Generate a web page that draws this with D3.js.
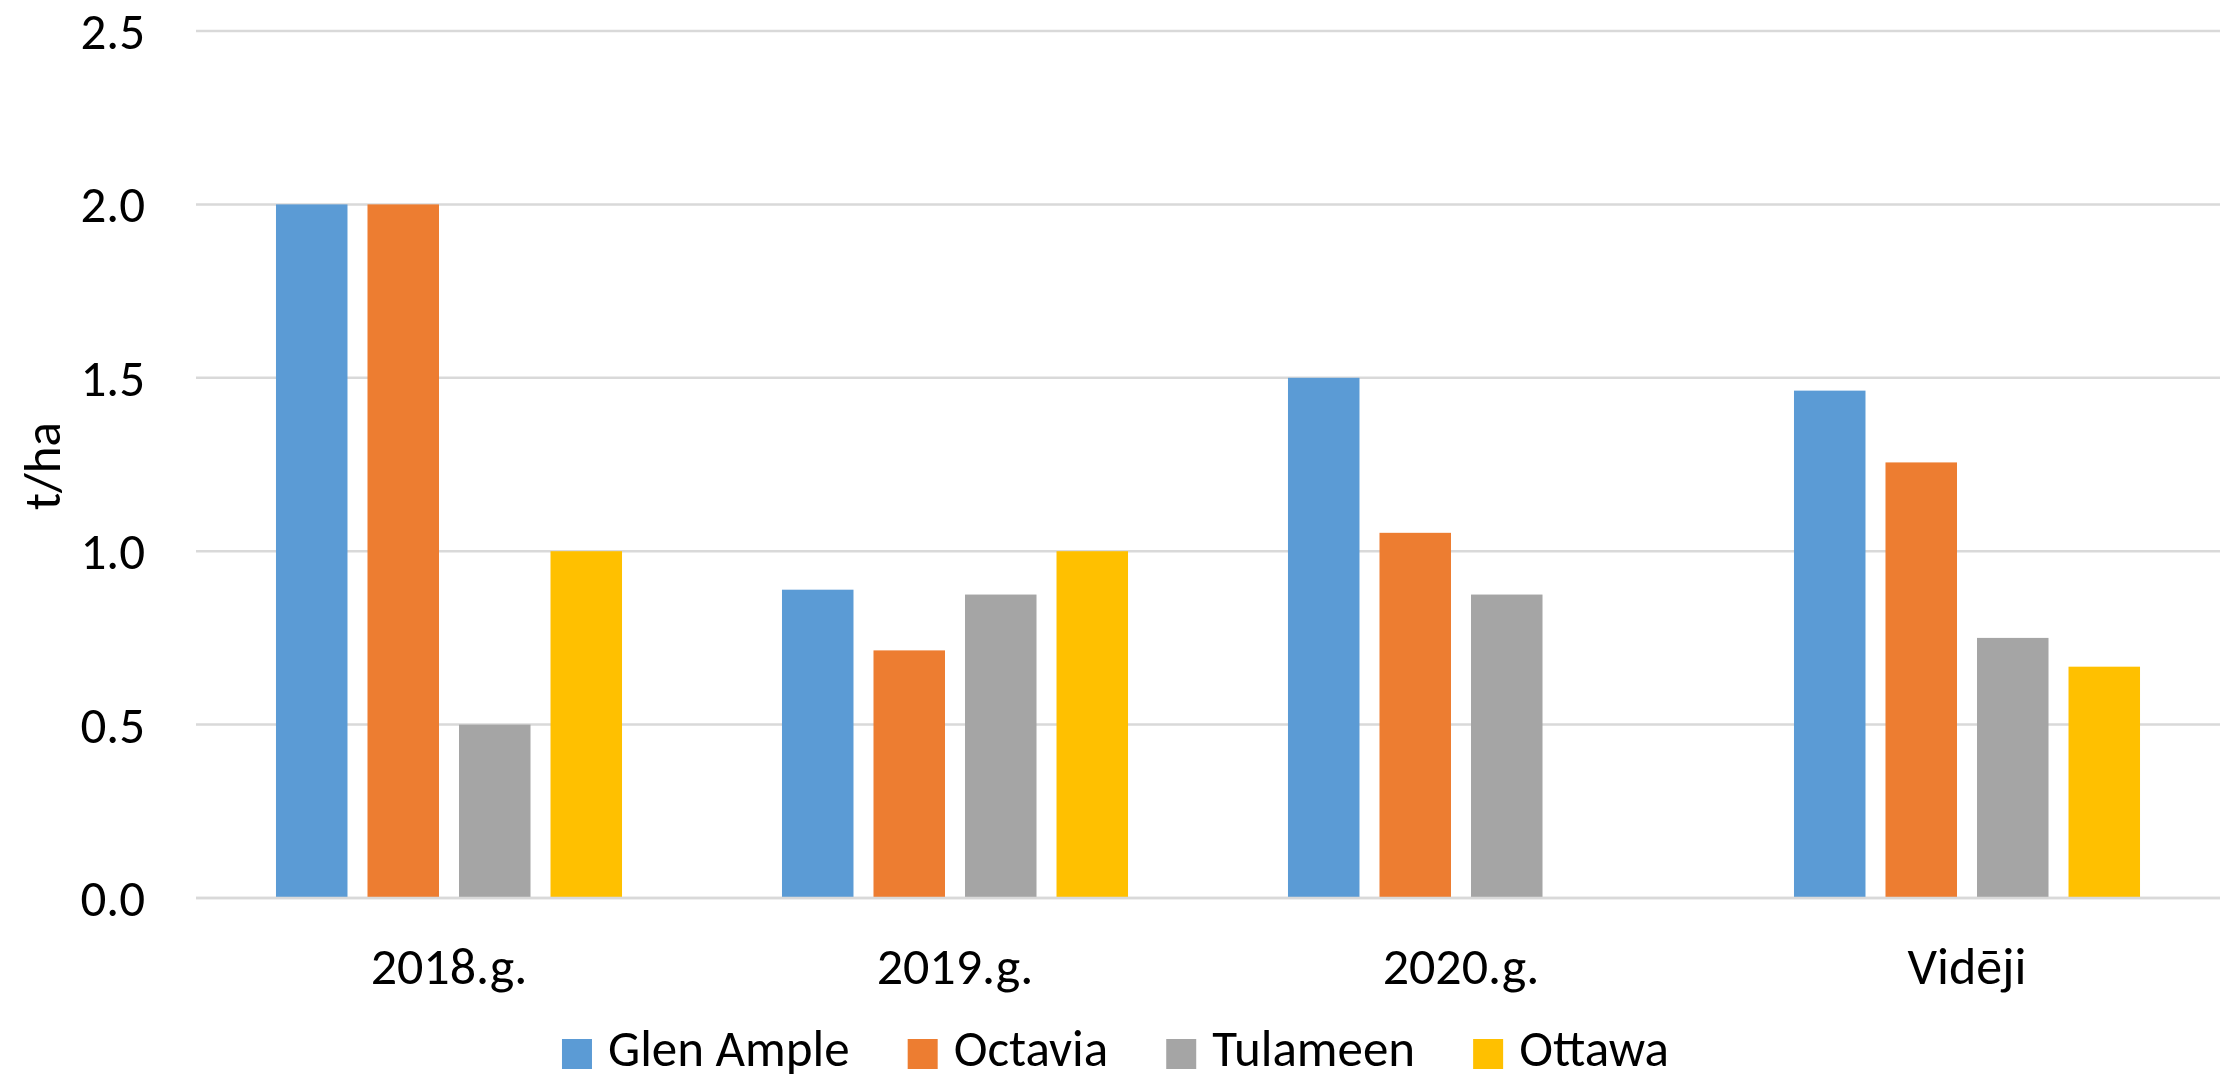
<!DOCTYPE html>
<html>
<head>
<meta charset="utf-8">
<script src="https://cdn.jsdelivr.net/npm/d3@7"></script>
<style>
  body { margin: 0; background: #fff; }
  svg { display: block; font-family: Carlito, Calibri, Lato, sans-serif; }
</style>
</head>
<body>
<svg id="chart"></svg>
<script>
// Yield per variety, t/ha
const categories = ['2018.g.', '2019.g.', '2020.g.', 'Vidēji'];
const seriesNames = ['Glen Ample', 'Octavia', 'Tulameen', 'Ottawa'];
const glenAmple = [2.0, 0.889, 1.5, 1.463];
const octavia = [2.0, 0.714, 1.053, 1.256];
const tulameen = [0.5, 0.875, 0.875, 0.75];
const ottawa = [1.0, 1.0, 0, 0.667];
const yTicks = [0, 0.5, 1.0, 1.5, 2.0, 2.5];

const seriesValues = [glenAmple, octavia, tulameen, ottawa];

const width = 2231;
const height = 1080;
const margin = { top: 31, right: 11, bottom: 182, left: 196 };

const color = d3.scaleOrdinal()
    .domain(seriesNames)
    .range(['#5b9bd5', '#ed7d31', '#a5a5a5', '#ffc000']);

const svg = d3.select('#chart')
    .attr('width', width)
    .attr('height', height);

const x0 = d3.scaleBand()
    .domain(categories)
    .range([margin.left, width - margin.right])
    .padding(0);

const x1 = d3.scaleBand()
    .domain(seriesNames)
    .range([0, x0.bandwidth()])
    .paddingInner(0.2186)
    .paddingOuter(0.874);

const y = d3.scaleLinear()
    .domain([0, 2.5])
    .range([height - margin.bottom, margin.top]);

// gridlines
svg.append('g')
    .selectAll('line')
    .data(yTicks)
    .enter()
    .append('line')
    .attr('x1', margin.left)
    .attr('x2', width - margin.right)
    .attr('y1', d => y(d))
    .attr('y2', d => y(d))
    .attr('stroke', '#d9d9d9')
    .attr('stroke-width', 2.5);

// y tick labels
svg.append('g')
    .selectAll('text')
    .data(yTicks)
    .enter()
    .append('text')
    .attr('x', 145)
    .attr('y', d => y(d) + 18)
    .attr('text-anchor', 'end')
    .style('font-size', '51px')
    .style('fill', '#000')
    .text(d => d3.format('.1f')(d));

// bars
const groups = svg.append('g')
    .selectAll('g')
    .data(categories)
    .enter()
    .append('g')
    .attr('transform', d => `translate(${x0(d)},0)`);

groups.selectAll('rect')
    .data((d, ci) => seriesNames.map((s, si) => ({ series: s, value: seriesValues[si][ci] })))
    .enter()
    .append('rect')
    .attr('x', d => x1(d.series))
    .attr('width', x1.bandwidth())
    .attr('y', d => y(d.value))
    .attr('height', d => y(0) - y(d.value))
    .attr('fill', d => color(d.series));

// baseline over bars
svg.append('line')
    .attr('x1', margin.left)
    .attr('x2', width - margin.right)
    .attr('y1', y(0))
    .attr('y2', y(0))
    .attr('stroke', '#d9d9d9')
    .attr('stroke-width', 2.5);

// x category labels
svg.append('g')
    .selectAll('text')
    .data(categories)
    .enter()
    .append('text')
    .attr('x', d => x0(d) + x0.bandwidth() / 2)
    .attr('y', 984)
    .attr('text-anchor', 'middle')
    .style('font-size', '52px')
    .style('fill', '#000')
    .text(d => d);

// y axis title
svg.append('text')
    .attr('transform', 'translate(60,466) rotate(-90)')
    .attr('text-anchor', 'middle')
    .style('font-size', '51px')
    .style('fill', '#000')
    .text('t/ha');

// legend, centred on the chart
const legend = svg.append('g');
const items = legend.selectAll('g')
    .data(seriesNames)
    .enter()
    .append('g');

items.append('rect')
    .attr('width', 30)
    .attr('height', 30)
    .attr('y', 1039)
    .attr('fill', d => color(d));

items.append('text')
    .attr('x', 46)
    .attr('y', 1066)
    .style('font-size', '51px')
    .style('fill', '#000')
    .text(d => d);

let offset = 0;
const positions = [];
items.each(function () {
    const w = 46 + d3.select(this).select('text').node().getComputedTextLength();
    positions.push(offset);
    offset += w + 58;
});
const total = offset - 58;
const start = width / 2 - total / 2;
items.attr('transform', (d, i) => `translate(${start + positions[i]},0)`);
</script>
</body>
</html>
